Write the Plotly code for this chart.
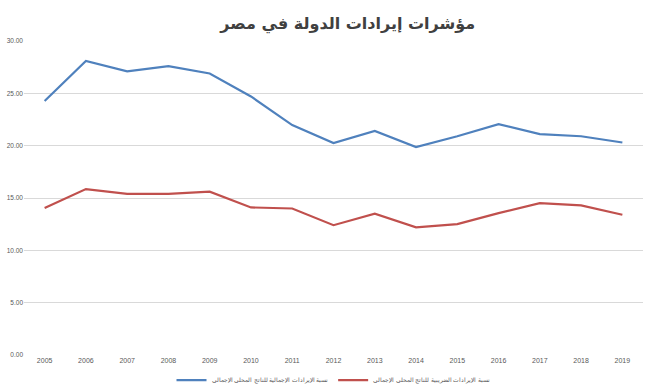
import plotly.graph_objects as go

years = [str(y) for y in range(2005, 2020)]
total_revenue = [24.26, 28.1, 27.1, 27.6, 26.9, 24.7, 21.97, 20.25, 21.4, 19.87, 20.9, 22.06, 21.1, 20.9, 20.3]
tax_revenue = [14.04, 15.85, 15.4, 15.4, 15.6, 14.1, 14.0, 12.4, 13.5, 12.2, 12.5, 13.55, 14.5, 14.3, 13.4]
series_names = ["نسبة الإيرادات الإجمالية للناتج المحلي الإجمالي",
                "نسبة الإيرادات الضريبية للناتج المحلي الإجمالي"]
title = "مؤشرات إيرادات الدولة في مصر"
y_ticks = [0, 5, 10, 15, 20, 25, 30]

fig = go.Figure()
fig.add_trace(go.Scatter(x=years, y=total_revenue, mode="lines", name=series_names[0],
                         line=dict(color="#4F81BD", width=2.2)))
fig.add_trace(go.Scatter(x=years, y=tax_revenue, mode="lines", name=series_names[1],
                         line=dict(color="#C0504D", width=2.2)))

fig.update_layout(
    width=650, height=390,
    margin=dict(l=24, r=7, t=41, b=35, autoexpand=False),
    paper_bgcolor="white", plot_bgcolor="white",
    title=dict(text="<b>" + title + "</b>", x=0.535, xanchor="center",
               yref="container", y=0.94, yanchor="middle",
               font=dict(family="DejaVu Sans", size=16, color="#404040")),
    font=dict(family="Liberation Sans", size=7, color="#595959"),
    showlegend=True,
    hovermode=False,
    legend=dict(orientation="h", x=0.5, xanchor="center", y=-0.08, yanchor="middle",
                font=dict(size=5.5, color="#595959"), itemwidth=30),
)
fig.update_xaxes(type="category", range=[-0.5, 14.5], showgrid=False, zeroline=False,
                 showline=False, ticks="", tickfont=dict(size=7, color="#595959"))
fig.update_yaxes(range=[0, 30], tickvals=y_ticks, ticktext=[f"{v:.2f}" for v in y_ticks],
                 showgrid=True, gridcolor="#D9D9D9", gridwidth=1, zeroline=False,
                 showline=False, ticks="", ticklen=0, tickfont=dict(size=6.5, color="#595959"))

fig.write_html("out.html", config={"displayModeBar": False},
               post_script="document.body.style.margin='0px';")
